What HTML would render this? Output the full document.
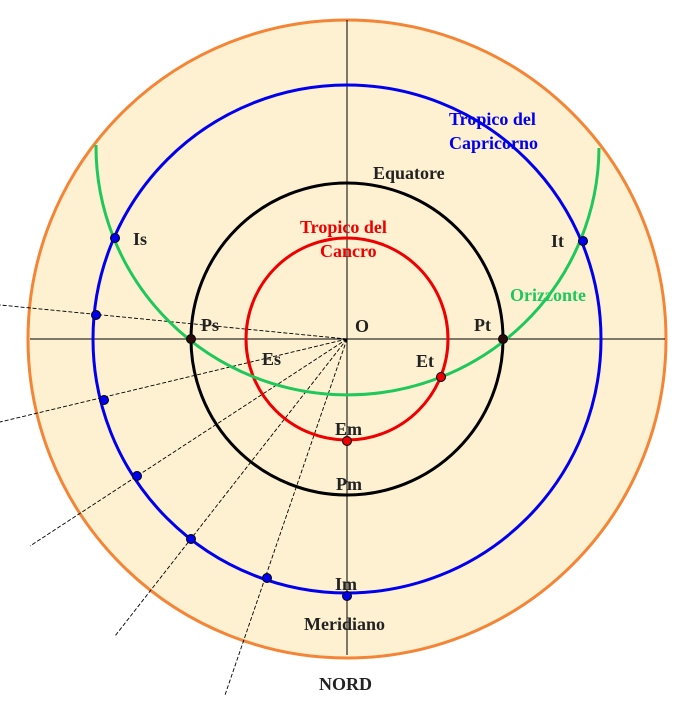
<!DOCTYPE html>
<html><head><meta charset="utf-8"><style>html,body{margin:0;padding:0;background:#fff}svg{display:block}</style></head>
<body>
<svg width="698" height="716" viewBox="0 0 698 716" xmlns="http://www.w3.org/2000/svg" font-family="Liberation Serif, serif" font-weight="bold">
<circle cx="347" cy="339" r="319" fill="#fdf1d2" stroke="#f58536" stroke-width="3"/>
<line x1="30" y1="339" x2="665" y2="339" stroke="#000" stroke-width="1"/>
<line x1="347" y1="20" x2="347" y2="655" stroke="#000" stroke-width="1"/>
<g stroke="#000" stroke-width="0.9" stroke-dasharray="4,2" fill="none">
<line x1="347" y1="339" x2="0" y2="305"/>
<line x1="347" y1="339" x2="0" y2="422"/>
<line x1="347" y1="339" x2="30" y2="546"/>
<line x1="347" y1="339" x2="115" y2="636"/>
<line x1="347" y1="339" x2="225" y2="695"/>
</g>
<circle cx="347" cy="339" r="254" fill="none" stroke="#0000ee" stroke-width="3"/>
<circle cx="347" cy="339" r="156" fill="none" stroke="#000" stroke-width="3"/>
<circle cx="347" cy="339" r="101" fill="none" stroke="#ee0000" stroke-width="3"/>
<path d="M96,145 A251 248 0 0 0 599,148" fill="none" stroke="#1ec85a" stroke-width="3"/>
<g stroke="#000" stroke-width="1">
<circle cx="115" cy="238" r="4.5" fill="#0000ee"/>
<circle cx="583" cy="241" r="4.5" fill="#0000ee"/>
<circle cx="96" cy="315" r="4.5" fill="#0000ee"/>
<circle cx="104" cy="400" r="4.5" fill="#0000ee"/>
<circle cx="137" cy="476" r="4.5" fill="#0000ee"/>
<circle cx="191" cy="539" r="4.5" fill="#0000ee"/>
<circle cx="267" cy="578" r="4.5" fill="#0000ee"/>
<circle cx="347" cy="596" r="4.5" fill="#0000ee"/>
<circle cx="441" cy="377" r="4.5" fill="#ee0000"/>
<circle cx="347" cy="441" r="4.5" fill="#ee0000"/>
<circle cx="191" cy="339" r="4.5" fill="#2a0a0a"/>
<circle cx="503" cy="339" r="4.5" fill="#2a0a0a"/>
</g>
<g font-size="18" fill="#222">
<text x="133" y="245">Is</text>
<text x="551" y="247">It</text>
<text x="201" y="331">Ps</text>
<text x="474" y="331">Pt</text>
<text x="355" y="332">O</text>
<text x="262" y="365">Es</text>
<text x="416" y="367">Et</text>
<text x="335" y="435">Em</text>
<text x="336" y="490">Pm</text>
<text x="335" y="590">Im</text>
<text x="304" y="630">Meridiano</text>
<text x="319" y="690">NORD</text>
<text x="373" y="179">Equatore</text>
</g>
<g font-size="18" fill="#0000ee"><text x="449" y="125">Tropico del</text><text x="449" y="149">Capricorno</text></g>
<g font-size="18" fill="#ee0000"><text x="300" y="233">Tropico del</text><text x="320" y="257">Cancro</text></g>
<text x="510" y="301" font-size="18" fill="#1ec85a">Orizzonte</text>
</svg>
</body></html>
